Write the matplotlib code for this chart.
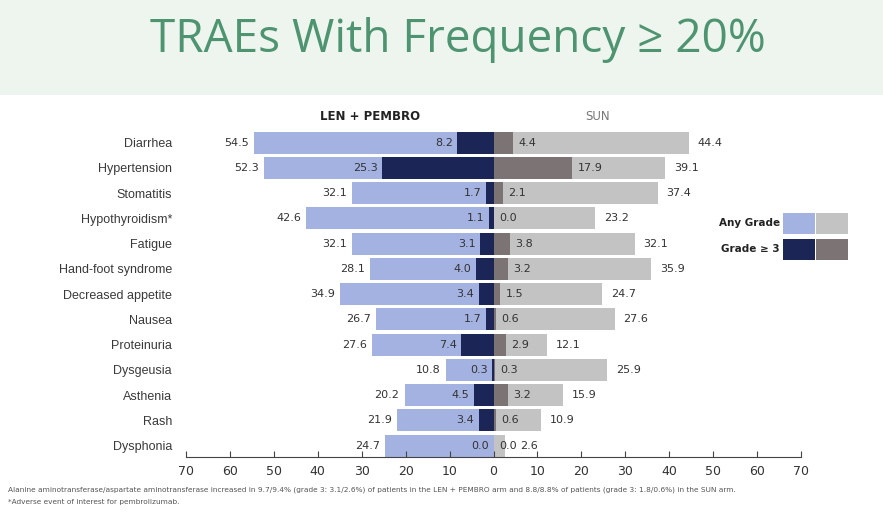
import matplotlib.pyplot as plt
from matplotlib.patches import Rectangle

events = ["Diarrhea", "Hypertension", "Stomatitis", "Hypothyroidism*", "Fatigue",
          "Hand-foot syndrome", "Decreased appetite", "Nausea", "Proteinuria",
          "Dysgeusia", "Asthenia", "Rash", "Dysphonia"]
len_any = [54.5, 52.3, 32.1, 42.6, 32.1, 28.1, 34.9, 26.7, 27.6, 10.8, 20.2, 21.9, 24.7]
len_g3 = [8.2, 25.3, 1.7, 1.1, 3.1, 4.0, 3.4, 1.7, 7.4, 0.3, 4.5, 3.4, 0.0]
sun_any = [44.4, 39.1, 37.4, 23.2, 32.1, 35.9, 24.7, 27.6, 12.1, 25.9, 15.9, 10.9, 2.6]
sun_g3 = [4.4, 17.9, 2.1, 0.0, 3.8, 3.2, 1.5, 0.6, 2.9, 0.3, 3.2, 0.6, 0.0]
ticks = list(range(-70, 71, 10))

c_len_any = "#a4b2e2"
c_len_g3 = "#1b2656"
c_sun_any = "#c3c3c3"
c_sun_g3 = "#7b7374"
txt = "#333333"

fig = plt.figure(figsize=(8.83, 5.22), dpi=100)
fig.patch.set_facecolor("white")
fig.patches.append(Rectangle((0, 1 - 95 / 522), 1, 95 / 522, transform=fig.transFigure,
                             facecolor="#eef5ef", edgecolor="none", zorder=0))
fig.text(458 / 883, 1 - 40 / 522, "TRAEs With Frequency \u2265 20%", ha="center", va="center",
         fontsize=33, color="#4e9470", family="Open Sans")

ax = fig.add_axes([186 / 883, 65 / 522, 615 / 883, 327 / 522])
y = list(range(len(events)))
h = 0.88
ax.barh(y, [-v for v in len_any], height=h, color=c_len_any)
ax.barh(y, [-v for v in len_g3], height=h, color=c_len_g3)
ax.barh(y, sun_any, height=h, color=c_sun_any)
ax.barh(y, sun_g3, height=h, color=c_sun_g3)

fs = 8
for i in y:
    ax.text(-len_any[i] - 1.2, i, f"{len_any[i]:.1f}", ha="right", va="center", fontsize=fs, color=txt)
    ax.text(-len_g3[i] - 1.0, i, f"{len_g3[i]:.1f}", ha="right", va="center", fontsize=fs, color=txt)
    ax.text(max(sun_any[i] + 2.0, sun_g3[i] + 6.0), i, f"{sun_any[i]:.1f}", ha="left", va="center",
            fontsize=fs, color=txt)
    ax.text(sun_g3[i] + 1.2, i, f"{sun_g3[i]:.1f}", ha="left", va="center", fontsize=fs, color=txt)

ax.set_ylim(12.45, -0.5)
ax.set_xlim(-70, 70)
ax.set_yticks(y)
ax.set_yticklabels(events, fontsize=9, color="#3a3a3a", family="Liberation Sans")
ax.tick_params(axis="y", length=0, pad=10)
ax.set_xticks(ticks)
ax.set_xticklabels([str(abs(t)) for t in ticks], fontsize=9, color=txt)
ax.tick_params(axis="x", direction="in", length=4, pad=6, color="#444444")
for s in ["top", "right", "left"]:
    ax.spines[s].set_visible(False)
ax.spines["bottom"].set_color("#444444")

fig.text(370 / 883, 1 - 116 / 522, "LEN + PEMBRO", ha="center", va="center",
         fontsize=8.5, fontweight="bold", color="#222222")
fig.text(598 / 883, 1 - 116 / 522, "SUN", ha="center", va="center", fontsize=8.5, color="#777777")

# legend
fig.text(780 / 883, 1 - 223 / 522, "Any Grade", ha="right", va="center", fontsize=7.5,
         fontweight="bold", color="#222222")
fig.text(780 / 883, 1 - 249 / 522, "Grade \u2265 3", ha="right", va="center", fontsize=7.5,
         fontweight="bold", color="#222222")
for (x0, yy, c) in [(783, 213, c_len_any), (816, 213, c_sun_any), (783, 239, c_len_g3), (816, 239, c_sun_g3)]:
    fig.patches.append(Rectangle((x0 / 883, 1 - (yy + 21) / 522), 32 / 883, 21 / 522,
                                 transform=fig.transFigure, facecolor=c, edgecolor="none"))

fig.text(8 / 883, 1 - 490 / 522,
         "Alanine aminotransferase/aspartate aminotransferase increased in 9.7/9.4% (grade 3: 3.1/2.6%) of patients in the LEN + PEMBRO arm "
         "and 8.8/8.8% of patients (grade 3: 1.8/0.6%) in the SUN arm.",
         ha="left", va="center", fontsize=5.3, color="#555555")
fig.text(8 / 883, 1 - 502 / 522, "*Adverse event of interest for pembrolizumab.",
         ha="left", va="center", fontsize=5.3, color="#555555")

fig.savefig("out.png", dpi=100)
